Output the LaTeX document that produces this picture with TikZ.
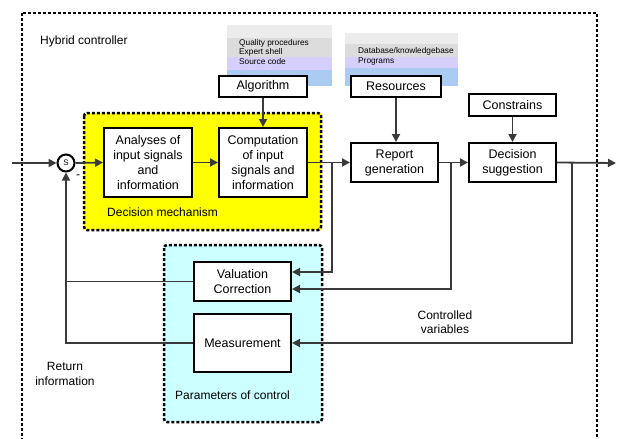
\documentclass[tikz,border=0pt]{standalone}
\usepackage{fontspec}
\setmainfont{Liberation Sans}
\usetikzlibrary{arrows.meta}
\definecolor{conncol}{HTML}{3A3A3A}
\definecolor{dmyellow}{HTML}{FFFF00}
\definecolor{pccyan}{HTML}{CCFFFF}
\definecolor{bandA}{HTML}{ECECEC}
\definecolor{bandB}{HTML}{DCDCDC}
\definecolor{bandC}{HTML}{D6CFFB}
\definecolor{bandD}{HTML}{AACBF2}
\begin{document}
\begin{tikzpicture}[x=1pt,y=-1pt,
  box/.style={draw=black,line width=2pt,fill=white,align=center,inner sep=1pt,
    font=\fontsize{12.5}{15}\selectfont},
  conn/.style={draw=conncol,line width=1.8pt},
  arr/.style={conn,-{Triangle[length=8pt,width=8pt]}},
  frame/.style={draw=black,line width=2.5pt,dash pattern=on 3pt off 2pt},
  lbl/.style={font=\fontsize{12}{14.5}\selectfont,align=center,inner sep=0pt},
  small/.style={font=\fontsize{8.3}{10}\selectfont,anchor=west,inner sep=0pt}]
\useasboundingbox (0,0) rectangle (619,439);
\clip (0,0) rectangle (619,439);
\fill[white] (0,0) rectangle (619,439);
% top panels
\fill[bandA] (227,25) rectangle (332,38);
\fill[bandB] (227,38) rectangle (332,57);
\fill[bandC] (227,57) rectangle (332,70);
\fill[bandD] (227,70) rectangle (332,86);
\fill[bandA] (345,33) rectangle (458,44);
\fill[bandB] (345,44) rectangle (458,57);
\fill[bandC] (345,57) rectangle (458,68);
\fill[bandD] (345,68) rectangle (458,86);
\node[small] (qp) at (239,43) {Quality procedures};
\node[small] (es) at (239,52.5) {Expert shell};
\node[small] (sc) at (239,62) {Source code};
\node[small] (db) at (358,51) {Database/knowledgebase};
\node[small] (pg) at (358,62) {Programs};
% group frames
\fill[dmyellow] (84,113) rectangle (321,230);
\fill[pccyan] (164,245) rectangle (322,422);
\draw[frame] (22,13) rectangle (597,460);
\draw[frame,rounded corners=3pt] (84,113) rectangle (321,230);
\draw[frame,rounded corners=3pt] (164,245) rectangle (322,422);
\node[lbl,anchor=west] (hc) at (40,41) {Hybrid controller};
\node[lbl,anchor=west] (dm) at (107,212) {Decision mechanism};
\node[lbl,anchor=west] (pc) at (175,395) {Parameters of control};
\node[lbl] (cv) at (445,322) {Controlled\\variables};
\node[lbl] (ri) at (65,374) {Return\\information};
% boxes
\node[box,minimum width=88pt,minimum height=69pt] (ana) at (148,162.5) {Analyses of\\input signals\\and\\information};
\node[box,minimum width=88pt,minimum height=69pt] (comp) at (263,162.5) {Computation\\of input\\signals and\\information};
\node[box,minimum width=87pt,minimum height=39pt] (rep) at (394.5,162.5) {Report\\generation};
\node[box,minimum width=87pt,minimum height=39pt] (dec) at (512.5,162.5) {Decision\\suggestion};
\node[box,minimum width=88pt,minimum height=21pt] (alg) at (263,86.5) {Algorithm};
\node[box,minimum width=90pt,minimum height=21pt] (res) at (396,86.5) {Resources};
\node[box,minimum width=87pt,minimum height=22pt] (con) at (512.5,105) {Constrains};
\node[box,minimum width=97pt,minimum height=39pt] (val) at (242.5,281.5) {Valuation\\Correction};
\node[box,minimum width=97pt,minimum height=58pt] (meas) at (242.5,343) {Measurement};
\node[circle,draw=black,line width=2pt,fill=white,minimum size=17pt,inner sep=0pt,
  font=\fontsize{8}{9}\selectfont] (S) at (66,163) {S};
\node[lbl] (minus) at (78,177) {-};
% connectors
\coordinate (in) at (12,163);
\coordinate (out) at (616,163);
\coordinate (b1) at (332,163);
\coordinate (b2) at (451,163);
\coordinate (b3) at (572,163);
\draw[arr] (in) -- (S.west);
\draw[arr] (S.east) -- (ana.west);
\draw[arr] (ana.east) -- (comp.west);
\draw[arr] (comp.east) -- (rep.west);
\draw[arr] (rep.east) -- (dec.west);
\draw[arr] (dec.east) -- (out);
\draw[arr] (alg.south) -- (comp.north);
\draw[arr] (res.south) -- (res.south |- rep.north);
\draw[arr] (con.south) -- (dec.north);
\draw[arr] (b1) |- ([yshift=9.5pt]val.east);
\draw[arr] (b2) |- ([yshift=-7.5pt]val.east);
\draw[arr] (b3) |- (meas.east);
\draw[conn] (val.west) -- (val.west -| S.south);
\draw[arr] (meas.west) -| (S.south);
\end{tikzpicture}
\end{document}
